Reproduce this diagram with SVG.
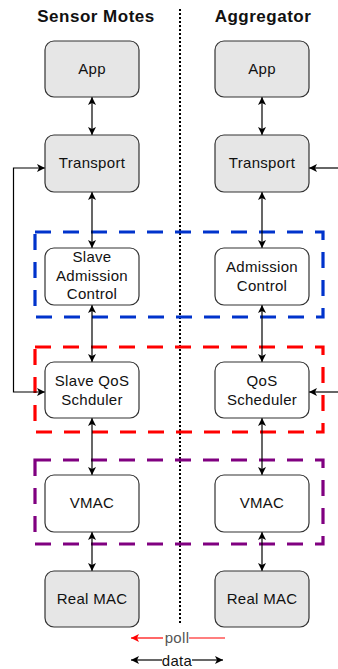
<svg xmlns="http://www.w3.org/2000/svg" width="338" height="669" viewBox="0 0 338 669">
<style>
.box{stroke:#333;stroke-width:1.2}
.gray{fill:#e6e6e6}
.white{fill:#fff}
.t{font-family:"Liberation Sans",Arial,sans-serif;font-size:15px;fill:#111;text-anchor:middle;letter-spacing:0.3px}
.h{font-family:"Liberation Sans",Arial,sans-serif;font-size:17px;font-weight:bold;fill:#111;text-anchor:middle;letter-spacing:0.5px}
.c{fill:none;stroke:#000;stroke-width:1.2}
.grp{fill:none;stroke-width:3.2;stroke-dasharray:16 12}
</style>
<defs>
<marker id="ah" viewBox="0 0 10 10" refX="10" refY="5" markerWidth="8" markerHeight="8" markerUnits="userSpaceOnUse" orient="auto-start-reverse">
<path d="M0,0 L10,5 L0,10 L2.5,5 Z" fill="#000"/>
</marker>
<marker id="ahr" viewBox="0 0 10 10" refX="10" refY="5" markerWidth="8" markerHeight="8" markerUnits="userSpaceOnUse" orient="auto-start-reverse">
<path d="M0,0 L10,5 L0,10 L2.5,5 Z" fill="#f00"/>
</marker>
</defs>
<rect width="338" height="669" fill="#fff"/>
<text class="h" x="96" y="22">Sensor Motes</text>
<text class="h" x="263" y="22">Aggregator</text>
<line x1="180" y1="9" x2="180" y2="623" stroke="#000" stroke-width="2" stroke-dasharray="2 2"/>

<g id="groups">
<rect class="grp" x="35" y="232" width="288" height="85" stroke="#0033cc"/>
<rect class="grp" x="35" y="347" width="288" height="85" stroke="#ff0000"/>
<rect class="grp" x="35" y="460" width="288" height="84" stroke="#800080"/>
</g>

<g id="connectors">
<line class="c" x1="92" y1="97" x2="92" y2="135" marker-start="url(#ah)" marker-end="url(#ah)"/>
<line class="c" x1="92" y1="192" x2="92" y2="248" marker-start="url(#ah)" marker-end="url(#ah)"/>
<line class="c" x1="92" y1="305" x2="92" y2="362" marker-start="url(#ah)" marker-end="url(#ah)"/>
<line class="c" x1="92" y1="418" x2="92" y2="475" marker-start="url(#ah)" marker-end="url(#ah)"/>
<line class="c" x1="92" y1="532" x2="92" y2="571" marker-start="url(#ah)" marker-end="url(#ah)"/>
<line class="c" x1="262" y1="97" x2="262" y2="135" marker-start="url(#ah)" marker-end="url(#ah)"/>
<line class="c" x1="262" y1="192" x2="262" y2="248" marker-start="url(#ah)" marker-end="url(#ah)"/>
<line class="c" x1="262" y1="305" x2="262" y2="362" marker-start="url(#ah)" marker-end="url(#ah)"/>
<line class="c" x1="262" y1="418" x2="262" y2="475" marker-start="url(#ah)" marker-end="url(#ah)"/>
<line class="c" x1="262" y1="532" x2="262" y2="571" marker-start="url(#ah)" marker-end="url(#ah)"/>
<polyline class="c" points="45,168 13.5,168 13.5,392 45,392" marker-start="url(#ah)" marker-end="url(#ah)"/>
<line class="c" x1="338" y1="168" x2="309" y2="168" marker-end="url(#ah)"/>
<line class="c" x1="338" y1="392" x2="309" y2="392" marker-end="url(#ah)"/>
</g>

<g id="app-s"><rect class="box gray" x="45" y="41" width="94" height="56" rx="9"/><text class="t" x="92" y="74">App</text></g>
<g id="transport-s"><rect class="box gray" x="45" y="135" width="94" height="57" rx="9"/><text class="t" x="92" y="168">Transport</text></g>
<g id="sac-s"><rect class="box white" x="45" y="248" width="94" height="57" rx="9"/><text class="t" x="92" y="262">Slave</text><text class="t" x="92" y="281">Admission</text><text class="t" x="92" y="299">Control</text></g>
<g id="qos-s"><rect class="box white" x="45" y="362" width="94" height="56" rx="9"/><text class="t" x="92" y="386">Slave QoS</text><text class="t" x="92" y="405">Schduler</text></g>
<g id="vmac-s"><rect class="box white" x="45" y="475" width="94" height="57" rx="9"/><text class="t" x="92" y="508">VMAC</text></g>
<g id="realmac-s"><rect class="box gray" x="45" y="571" width="94" height="56" rx="9"/><text class="t" x="92" y="604">Real MAC</text></g>

<g id="app-a"><rect class="box gray" x="215" y="41" width="94" height="56" rx="9"/><text class="t" x="262" y="74">App</text></g>
<g id="transport-a"><rect class="box gray" x="215" y="135" width="94" height="57" rx="9"/><text class="t" x="262" y="168">Transport</text></g>
<g id="ac-a"><rect class="box white" x="215" y="248" width="94" height="57" rx="9"/><text class="t" x="262" y="272">Admission</text><text class="t" x="262" y="291">Control</text></g>
<g id="qos-a"><rect class="box white" x="215" y="362" width="94" height="56" rx="9"/><text class="t" x="262" y="386">QoS</text><text class="t" x="262" y="405">Scheduler</text></g>
<g id="vmac-a"><rect class="box white" x="215" y="475" width="94" height="57" rx="9"/><text class="t" x="262" y="508">VMAC</text></g>
<g id="realmac-a"><rect class="box gray" x="215" y="571" width="94" height="56" rx="9"/><text class="t" x="262" y="604">Real MAC</text></g>

<g id="legend">
<line x1="163" y1="638" x2="131" y2="638" stroke="#f00" stroke-width="1.2" marker-end="url(#ahr)"/>
<line x1="189" y1="638" x2="225" y2="638" stroke="#f00" stroke-width="1.2"/>
<text class="t" x="177" y="643" style="fill:#555">poll</text>
<line x1="162" y1="660" x2="131" y2="660" stroke="#000" stroke-width="1.2" marker-end="url(#ah)"/>
<line x1="192" y1="660" x2="223" y2="660" stroke="#000" stroke-width="1.2" marker-end="url(#ah)"/>
<text class="t" x="177" y="666">data</text>
</g>
</svg>
